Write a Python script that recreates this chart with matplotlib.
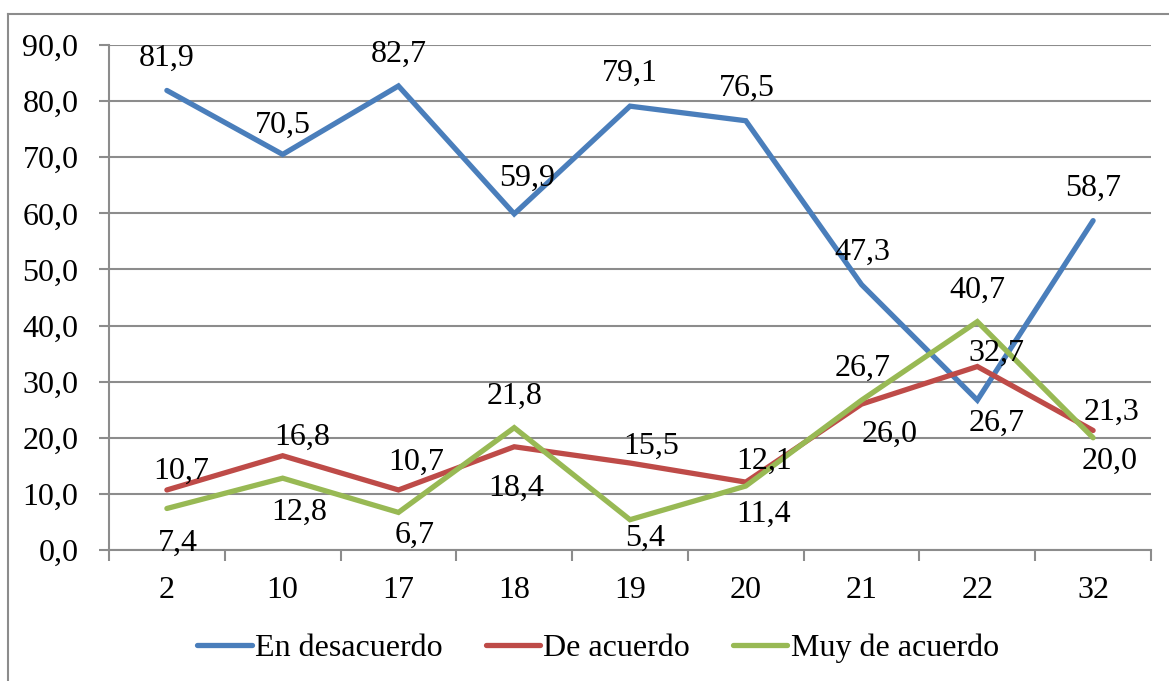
import matplotlib
matplotlib.use("Agg")
import matplotlib.pyplot as plt
from matplotlib.lines import Line2D
import numpy as np

# ── Data ──────────────────────────────────────────────────────────────────────
categories = ["2", "10", "17", "18", "19", "20", "21", "22", "32"]
en_desacuerdo = [81.9, 70.5, 82.7, 59.9, 79.1, 76.5, 47.3, 26.7, 58.7]
de_acuerdo = [10.7, 16.8, 10.7, 18.4, 15.5, 12.1, 26.0, 32.7, 21.3]
muy_de_acuerdo = [7.4, 12.8, 6.7, 21.8, 5.4, 11.4, 26.7, 40.7, 20.0]
series_names = ["En desacuerdo", "De acuerdo", "Muy de acuerdo"]

# ── Style / layout ────────────────────────────────────────────────────────────
COLORS = ["#4A7EBB", "#BE4B48", "#98B954"]
GRID = "#8C8C8C"
FONT = "Liberation Serif"
FS = 23
plt.rcParams["font.family"] = [FONT, "DejaVu Serif"]

# label offsets in pixels (dx, dy of the digit centre, up positive)
label_offsets = [
    [(0, 36), (0, 33), (0, 35), (13, 39), (0, 36), (1, 36), (1, 36), (19, -20), (0, 36)],
    [(14, 22), (20, 22), (18, 31), (2, -38), (21, 20), (18, 24), (28, -27), (19, 17), (18, 22)],
    [(11, -31), (17, -31), (16, -19), (0, 35), (15, -15), (18, -25), (1, 35), (0, 35), (17, -20)],
]

W, H = 1169, 681
fig = plt.figure(figsize=(W / 100, H / 100), dpi=100)
ax = fig.add_axes([109 / W, 1 - 550 / H, 1042 / W, 505 / H])

x = np.arange(len(categories))
all_series = [en_desacuerdo, de_acuerdo, muy_de_acuerdo]
for vals, col, name in zip(all_series, COLORS, series_names):
    ax.plot(x, vals, color=col, lw=3.8, solid_capstyle="round",
            solid_joinstyle="miter", label=name, zorder=3)

# data labels
for vals, offs in zip(all_series, label_offsets):
    for xi, v, (dx, dy) in zip(x, vals, offs):
        ax.annotate(f"{v:.1f}".replace(".", ","), (xi, v),
                    xytext=(dx, dy - 11), textcoords="offset pixels",
                    ha="center", va="baseline", fontsize=FS, color="black",
                    zorder=4, annotation_clip=False)

ax.set_xlim(-0.5, len(categories) - 0.5)
ax.set_ylim(0, 90)
ax.set_yticks(np.arange(0, 91, 10))
ax.set_yticklabels([f"{t:.1f}".replace(".", ",") for t in np.arange(0, 91, 10)])
ax.set_xticks(x)
ax.set_xticklabels(categories)
ax.set_xticks(np.arange(-0.5, len(categories)), minor=True)

ax.grid(axis="y", color=GRID, lw=1.5, zorder=1)
for side in ["top", "right"]:
    ax.spines[side].set_visible(False)
for side in ["left", "bottom"]:
    ax.spines[side].set_color(GRID)
    ax.spines[side].set_linewidth(1.5)

ax.tick_params(axis="y", length=7, width=1.5, color=GRID, pad=15, labelsize=FS)
ax.tick_params(axis="x", which="major", length=0, pad=19, labelsize=FS)
ax.tick_params(axis="x", which="minor", length=8, width=1.5, color=GRID)

# legend
handles = [Line2D([0], [0], color=c, lw=3.8, solid_capstyle="round") for c in COLORS]
fig.legend(handles, series_names, loc="center", bbox_to_anchor=(598 / W, 1 - 648 / H),
           ncol=3, frameon=False, fontsize=FS, handlelength=1.7, handletextpad=0.1,
           columnspacing=1.35, borderaxespad=0, borderpad=0)

# outer chart border (top and left visible)
fig.add_artist(Line2D([8 / W, 8 / W], [0, 1 - 14 / H], transform=fig.transFigure,
                      color=GRID, lw=1.5))
fig.add_artist(Line2D([8 / W, 1], [1 - 14 / H, 1 - 14 / H], transform=fig.transFigure,
                      color=GRID, lw=1.5))

fig.savefig("out.png", dpi=100)
